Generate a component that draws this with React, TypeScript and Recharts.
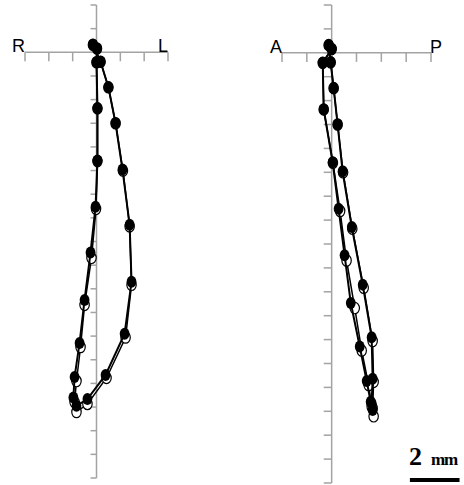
import { ScatterChart, Scatter, XAxis, YAxis, ReferenceLine } from "recharts";

// Marker trajectory in mm. vertical: up is positive; lateral: toward L is positive;
// antPost: toward P is positive. First set = filled dots, second set = open dots.
const vertical = [0.32, -0.4, -1.48, -3.0, -4.96, -7.29, -9.7, -11.9, -13.64, -14.66, -14.95, -14.6, -13.73, -12.29, -10.47, -8.47, -6.53, -4.58, -2.37, -0.42, 0.16];
const lateral = [-0.15, 0.17, 0.5, 0.8, 1.09, 1.39, 1.47, 1.18, 0.38, -0.38, -0.84, -0.97, -0.92, -0.71, -0.5, -0.25, -0.04, 0.04, 0.04, 0, 0.02];
const antPost = [-0.12, -0.04, 0.08, 0.24, 0.44, 0.81, 1.25, 1.61, 1.65, 1.61, 1.65, 1.57, 1.41, 1.13, 0.77, 0.52, 0.28, 0.04, -0.32, -0.36, 0.0];

const vertical2 = [0.32, -0.4, -1.48, -3.0, -5.0, -7.36, -9.83, -12.06, -13.77, -14.87, -15.21, -14.79, -13.9, -12.46, -10.68, -8.69, -6.62, -4.6, -2.37, -0.42, 0.16];
const lateral2 = [-0.15, 0.17, 0.5, 0.8, 1.11, 1.39, 1.47, 1.22, 0.42, -0.38, -0.84, -0.92, -0.84, -0.67, -0.5, -0.21, -0.02, 0.04, 0.04, 0, 0.02];
const antPost2 = [-0.12, -0.04, 0.08, 0.24, 0.46, 0.83, 1.29, 1.65, 1.69, 1.65, 1.69, 1.61, 1.49, 1.21, 0.93, 0.6, 0.34, 0.05, -0.32, -0.36, 0.0];

// 1 mm grid marks
const vTicks = [2, 1, 0, -1, -2, -3, -4, -5, -6, -7, -8, -9, -10, -11, -12, -13, -14, -15, -16, -17, -18];
const ticksRL = [-3, -2, -1, 0, 1, 2, 3];
const ticksAP = [-2, -1, 0, 1, 2, 3, 4];

const AXIS = "#a3a3a3";

const FilledDot = (p: any) => <ellipse cx={p.cx} cy={p.cy} rx={4.9} ry={6} fill="#000" />;
const OpenDot = (p: any) => (
  <ellipse cx={p.cx} cy={p.cy} rx={4.7} ry={5.7} fill="#fff" stroke="#000" strokeWidth={1.2} />
);

type PanelProps = {
  left: number;
  width: number;
  margin: { top: number; right: number; bottom: number; left: number };
  horiz: number[];
  horiz2: number[];
  xTicks: number[];
  labels: [string, string];
  vTickLen: number;
  hTickLen: number;
  children?: any;
};

function Panel({ left, width, margin, horiz, horiz2, xTicks, labels, vTickLen, hTickLen, children }: PanelProps) {
  const filled = vertical.map((v, i) => ({ x: horiz[i], y: v }));
  const open = vertical2.map((v, i) => ({ x: horiz2[i], y: v }));
  const x0 = xTicks[0];
  const x1 = xTicks[xTicks.length - 1];

  const axisLabels = (props: any) => {
    const { x, y, width: w } = props.viewBox;
    return (
      <g fontFamily="Liberation Sans, Arial, sans-serif" fontSize={18} fill="#000">
        <text x={x} y={y} textAnchor="end">{labels[0]}</text>
        <text x={labels[1] === "P" ? x + w - 1 : x + w} y={y} textAnchor={labels[1] === "P" ? "start" : "end"}>
          {labels[1]}
        </text>
      </g>
    );
  };

  return (
    <div style={{ position: "absolute", left, top: 0 }}>
      <ScatterChart width={width} height={485} margin={margin}>
        <XAxis type="number" dataKey="x" domain={[x0, x1]} hide />
        <YAxis type="number" dataKey="y" domain={[-18, 2]} hide />
        <ReferenceLine segment={[{ x: 0, y: 2 }, { x: 0, y: -18 }]} stroke={AXIS} strokeWidth={1.5} ifOverflow="visible" />
        <ReferenceLine
          segment={[{ x: x0, y: 0 }, { x: x1, y: 0 }]}
          stroke={AXIS}
          strokeWidth={1.5}
          ifOverflow="visible"
          label={{ content: axisLabels }}
        />
        {vTicks.map((t) => (
          <ReferenceLine
            key={`v${t}`}
            segment={[{ x: -vTickLen, y: t }, { x: 0, y: t }]}
            stroke={AXIS}
            strokeWidth={1.5}
            ifOverflow="visible"
          />
        ))}
        {xTicks.map((t) => (
          <ReferenceLine
            key={`h${t}`}
            segment={[{ x: t, y: 0 }, { x: t, y: -hTickLen }]}
            stroke={AXIS}
            strokeWidth={1.5}
            ifOverflow="visible"
          />
        ))}
        <Scatter data={open} shape={OpenDot} line={{ stroke: "#000", strokeWidth: 1.5 }} isAnimationActive={false} />
        <Scatter data={filled} shape={FilledDot} line={{ stroke: "#000", strokeWidth: 2 }} isAnimationActive={false} />
        {children}
      </ScatterChart>
    </div>
  );
}

const scaleLabel = (props: any) => {
  const { x, y } = props.viewBox;
  return (
    <g fontFamily="Liberation Serif, Times New Roman, serif" fontWeight="bold" fill="#000">
      <text x={x - 1} y={y - 15} fontSize={26}>2</text>
      <text x={x + 21} y={y - 15} fontSize={17} letterSpacing={-1}>mm</text>
    </g>
  );
};

export default function App() {
  return (
    <div style={{ position: "absolute", left: 0, top: 0, width: 464, height: 485, background: "#fff" }}>
      <Panel
        left={0}
        width={200}
        margin={{ top: 5, right: 32, bottom: 7, left: 25 }}
        horiz={lateral}
        horiz2={lateral2}
        xTicks={ticksRL}
        labels={["R", "L"]}
        vTickLen={0.25}
        hTickLen={0.38}
      />
      <Panel
        left={240}
        width={224}
        margin={{ top: 5, right: 33, bottom: 2, left: 42 }}
        horiz={antPost}
        horiz2={antPost2}
        xTicks={ticksAP}
        labels={["A", "P"]}
        vTickLen={0.32}
        hTickLen={0.38}
      >
        {/* 2 mm scale bar */}
        <ReferenceLine
          segment={[{ x: 3.15, y: -17.87 }, { x: 5.15, y: -17.87 }]}
          stroke="#000"
          strokeWidth={4}
          ifOverflow="visible"
          label={{ content: scaleLabel }}
        />
      </Panel>
    </div>
  );
}
